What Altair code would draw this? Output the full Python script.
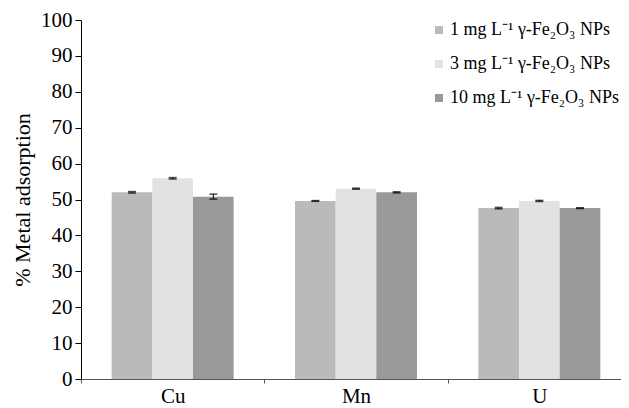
import altair as alt
import pandas as pd

metals = ["Cu", "Mn", "U"]
doses = ["1 mg L⁻¹ γ-Fe₂O₃ NPs", "3 mg L⁻¹ γ-Fe₂O₃ NPs", "10 mg L⁻¹ γ-Fe₂O₃ NPs"]
dose1 = [52.0, 49.6, 47.6]
dose3 = [55.9, 53.0, 49.6]
dose10 = [50.8, 52.0, 47.6]
err1 = [0.2, 0.1, 0.2]
err3 = [0.2, 0.15, 0.15]
err10 = [0.7, 0.15, 0.1]
colors = ["#bababa", "#e2e2e2", "#999999"]

rows = []
for i, m in enumerate(metals):
    for d, vals, errs in zip(doses, [dose1, dose3, dose10], [err1, err3, err10]):
        rows.append({"metal": m, "dose": d, "value": vals[i],
                     "lo": vals[i] - errs[i], "hi": vals[i] + errs[i]})
df = pd.DataFrame(rows)

FONT = "Liberation Serif"

x = alt.X("metal:N", sort=metals, title=None,
          scale=alt.Scale(paddingInner=0, paddingOuter=0, range=[0, 550]),
          axis=alt.Axis(labelAngle=0, labelFontSize=21, labelFont=FONT, labelColor="black",
                        tickBand="extent", tickSize=4, tickColor="#555555",
                        domainColor="#555555", labelPadding=2))
xoff = alt.XOffset("dose:N", sort=doses,
                   scale=alt.Scale(paddingInner=0, paddingOuter=0.755))

yscale = alt.Scale(domain=[0, 100])
yaxis = alt.Axis(values=list(range(0, 101, 10)), grid=False, labelOverlap=False,
                 labelFontSize=21, labelFont=FONT, labelColor="black",
                 titleFont=FONT, titleFontSize=22, titleFontWeight="normal",
                 titleColor="black", titlePadding=6,
                 tickColor="black", domainColor="black", tickSize=6, labelPadding=3)

base = alt.Chart(df).encode(x=x, xOffset=xoff)

bars = base.mark_bar().encode(
    y=alt.Y("value:Q", title="% Metal adsorption", scale=yscale, axis=yaxis),
    color=alt.Color("dose:N", sort=doses,
                    scale=alt.Scale(domain=doses, range=colors),
                    legend=alt.Legend(title=None, orient="none", legendX=349, legendY=1,
                                      symbolType="square", symbolSize=64,
                                      symbolStrokeWidth=0, labelLimit=400,
                                      labelFont=FONT, labelFontSize=18, labelColor="black",
                                      rowPadding=16, labelOffset=2)),
)

rule = base.mark_rule(color="black", strokeWidth=1).encode(
    y=alt.Y("lo:Q", title="% Metal adsorption", scale=yscale, axis=yaxis), y2="hi:Q")
cap_lo = base.mark_tick(color="black", size=8, thickness=1.5).encode(
    y=alt.Y("lo:Q", title="% Metal adsorption", scale=yscale, axis=yaxis))
cap_hi = base.mark_tick(color="black", size=8, thickness=1.5).encode(
    y=alt.Y("hi:Q", title="% Metal adsorption", scale=yscale, axis=yaxis))

chart = alt.layer(bars, rule, cap_lo, cap_hi).properties(
    width=540, height=359,
    autosize=alt.AutoSizeParams(type="none"),
    padding={"left": 73, "top": 12, "right": 0, "bottom": 28},
).configure_view(stroke=None)

chart.save("out.html", embed_options={"renderer": "svg", "actions": False})
